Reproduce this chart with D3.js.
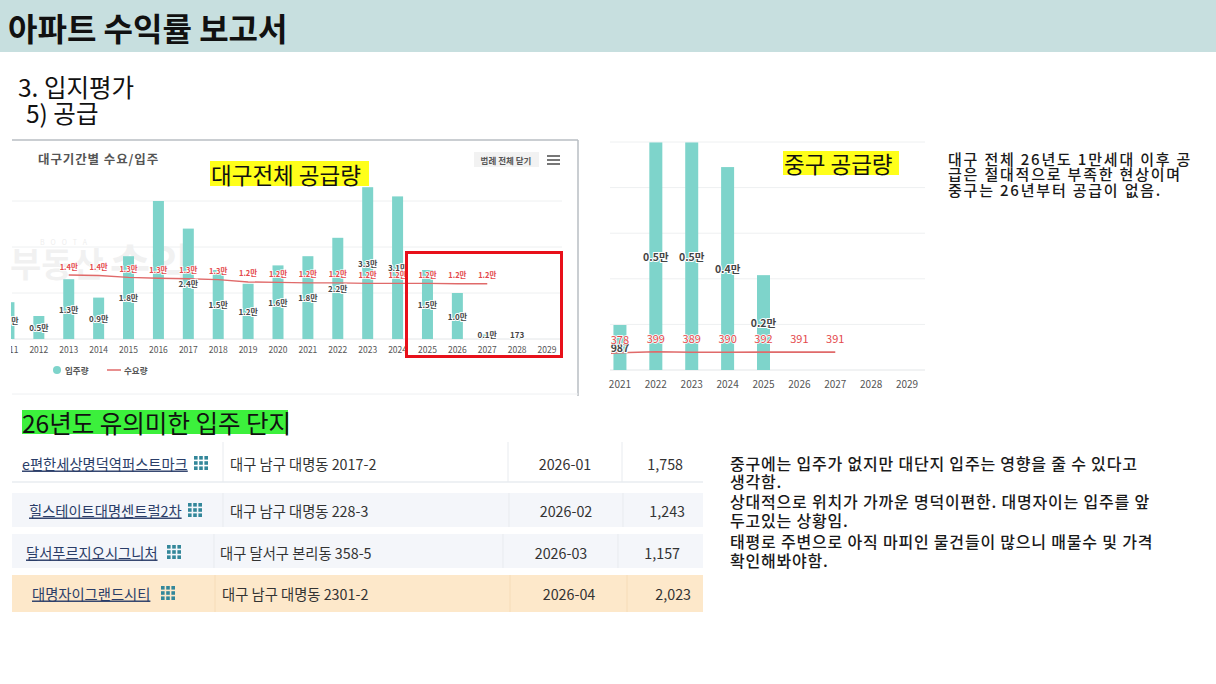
<!DOCTYPE html>
<html><head><meta charset="utf-8">
<script src="https://cdn.jsdelivr.net/npm/d3@7"></script>
<style>
body{margin:0;background:#fff;}
svg{display:block;font-family:"Noto Sans CJK KR","Noto Sans",sans-serif;}
</style></head><body>
<svg id="c" width="1216" height="684"></svg>
<script>
// ---------- DATA ----------
const daeguYears = ["2011","2012","2013","2014","2015","2016","2017","2018","2019","2020","2021","2022","2023","2024","2025","2026","2027","2028","2029"];
const daeguSupply = [8000,5000,13000,9000,18000,30000,24000,15000,12000,16000,18000,22000,33000,31000,15000,10000,1000,173,0];
const daeguDemandYears = ["2013","2014","2015","2016","2017","2018","2019","2020","2021","2022","2023","2024","2025","2026","2027"];
const daeguDemand = [13900,13800,13400,13200,13100,12900,12400,12300,12200,12200,12100,12100,12100,12000,12000];
const daeguTicks = [0,10000,20000,30000];

const jungYears = ["2021","2022","2023","2024","2025","2026","2027","2028","2029"];
const jungSupply = [987,4990,4990,4450,2080,0,0,0,0];
const jungDemandYears = ["2021","2022","2023","2024","2025","2026","2027"];
const jungDemand = [378,399,389,390,392,391,391];
const jungTicks = [0,1000,2000,3000,4000,5000];

const complexNames = ["e편한세상명덕역퍼스트마크","힐스테이트대명센트럴2차","달서푸르지오시그니처","대명자이그랜드시티"];
const complexAddr = ["대구 남구 대명동 2017-2","대구 남구 대명동 228-3","대구 달서구 본리동 358-5","대구 남구 대명동 2301-2"];
const complexDate = ["2026-01","2026-02","2026-03","2026-04"];
const complexUnits = [1758,1243,1157,2023];

const noteTop = ["대구 전체 26년도 1만세대 이후 공","급은 절대적으로 부족한 현상이며","중구는 26년부터 공급이 없음."];
const noteBottom = ["중구에는 입주가 없지만 대단지 입주는 영향을 줄 수 있다고","생각함.","상대적으로 위치가 가까운 명덕이편한. 대명자이는 입주를 앞","두고있는 상황임.","태평로 주변으로 아직 마피인 물건들이 많으니 매물수 및 가격","확인해봐야함."];

// ---------- STYLE ----------
const TEAL = "#7ed4cb", RED = "#e4494c", LINE_RED = "#e06a6a";
const svg = d3.select("#c");
const fmtMan = v => v >= 1000 ? (v/10000).toFixed(1) + "만" : String(v);

// header
svg.append("rect").attr("x",0).attr("y",0).attr("width",1216).attr("height",52).attr("fill","#c7dfdf");
svg.append("text").attr("x",8).attr("y",27).attr("dominant-baseline","central")
  .attr("font-size",32).attr("font-weight",700).attr("fill","#111").text("아파트 수익률 보고서");
svg.append("text").attr("x",18).attr("y",86).attr("dominant-baseline","central")
  .attr("font-size",24.5).attr("fill","#111").text("3. 입지평가");
svg.append("text").attr("x",26).attr("y",112).attr("dominant-baseline","central")
  .attr("font-size",24.5).attr("fill","#111").text("5) 공급");

// ---------- LEFT CHART ----------
const L = svg.append("g");
L.append("line").attr("x1",12).attr("x2",578).attr("y1",140).attr("y2",140).attr("stroke","#b9bec3").attr("stroke-width",1.5);
L.append("line").attr("x1",578).attr("x2",578).attr("y1",140).attr("y2",396).attr("stroke","#b9bec3").attr("stroke-width",1.5);
L.append("line").attr("x1",12).attr("x2",578).attr("y1",394).attr("y2",394).attr("stroke","#eef0f2").attr("stroke-width",1);

svg.append("defs").append("clipPath").attr("id","clipL").append("rect")
  .attr("x",11).attr("y",140).attr("width",567).attr("height",256);

const xL = d3.scalePoint().domain(daeguYears).range([-6,562]).padding(0.5);
const yL = d3.scaleLinear().domain([0,30000]).range([339,201]);

const Lc = L.append("g").attr("clip-path","url(#clipL)");
// watermark
Lc.append("text").attr("x",10).attr("y",262).attr("dominant-baseline","central")
  .attr("font-size",34).attr("font-weight",700).attr("fill","#000").attr("opacity",0.05)
  .text("부동산").append("tspan").attr("font-size",44).attr("dx",6).text("수익");
Lc.append("text").attr("x",40).attr("y",242).attr("dominant-baseline","central")
  .attr("font-size",7).attr("letter-spacing",6).attr("fill","#000").attr("opacity",0.07).text("BOOTA");

Lc.selectAll("line.grid").data(daeguTicks).join("line").attr("class","grid")
  .attr("x1",12).attr("x2",562).attr("y1",d=>yL(d)).attr("y2",d=>yL(d))
  .attr("stroke", d=> d===0 ? "#e3e6e8" : "#eef0f1");

const bwL = 11;
Lc.selectAll("rect.bar").data(daeguYears).join("rect").attr("class","bar")
  .attr("x",d=>xL(d)-bwL/2).attr("width",bwL)
  .attr("y",(d,i)=>yL(daeguSupply[i])).attr("height",(d,i)=>yL(0)-yL(daeguSupply[i]))
  .attr("fill",TEAL);

// demand line
const demPts = daeguDemandYears.map((y,i)=>[xL(y), yL(daeguDemand[i])]);
Lc.append("path").attr("d",d3.line()(demPts)).attr("fill","none").attr("stroke",LINE_RED).attr("stroke-width",1.4);

// supply labels
const demLabelY = {};
daeguDemandYears.forEach((y,i)=>demLabelY[y]=yL(daeguDemand[i])-9);
Lc.selectAll("text.sl").data(daeguYears.filter((d,i)=>daeguSupply[i]>0)).join("text").attr("class","sl")
  .each(function(d){
    const i = daeguYears.indexOf(d), v = daeguSupply[i];
    let ly = Math.min((yL(v)+yL(0))/2, yL(0)-5);
    const hide = demLabelY[d]!==undefined && Math.abs(demLabelY[d]-ly) < 5;
    d3.select(this).attr("x",xL(d)).attr("y",ly).attr("display",hide?"none":null).text(fmtMan(v));
  })
  .attr("text-anchor","middle").attr("dominant-baseline","central")
  .attr("font-size",8).attr("font-weight",700).attr("fill","#444")
  .attr("stroke","#fff").attr("stroke-width",2).attr("paint-order","stroke");

Lc.selectAll("text.dl").data(daeguDemandYears).join("text").attr("class","dl")
  .attr("x",d=>xL(d)).attr("y",d=>demLabelY[d]).text((d,i)=>fmtMan(daeguDemand[i]))
  .attr("text-anchor","middle").attr("dominant-baseline","central")
  .attr("font-size",7.5).attr("font-weight",700).attr("fill",RED)
  .attr("stroke","#fff").attr("stroke-width",1.5).attr("paint-order","stroke");

// x axis labels
Lc.selectAll("text.xl").data(daeguYears).join("text").attr("class","xl")
  .attr("x",d=>xL(d)).attr("y",349).text(d=>d)
  .attr("text-anchor","middle").attr("dominant-baseline","central")
  .attr("font-size",8.5).attr("fill","#555");

// title, legend, buttons
L.append("text").attr("x",38).attr("y",158).attr("dominant-baseline","central")
  .attr("font-size",12.5).attr("letter-spacing",0.9).attr("font-weight",700).attr("fill","#555").text("대구기간별 수요/입주");
L.append("rect").attr("x",210).attr("y",161).attr("width",159).attr("height",25).attr("fill","#ffff1a");
L.append("text").attr("x",211).attr("y",174).attr("dominant-baseline","central")
  .attr("font-size",22.5).attr("fill","#111").text("대구전체 공급량");
L.append("rect").attr("x",474).attr("y",152).attr("width",65).attr("height",15).attr("fill","#f2f2f2");
L.append("text").attr("x",506).attr("y",160).attr("text-anchor","middle").attr("dominant-baseline","central")
  .attr("font-size",8.5).attr("font-weight",700).attr("fill","#555").text("범례 전체 닫기");
[156,160,164].forEach(y=>L.append("line").attr("x1",547).attr("x2",560).attr("y1",y).attr("y2",y).attr("stroke","#555").attr("stroke-width",1.6));
L.append("circle").attr("cx",57).attr("cy",370).attr("r",4).attr("fill",TEAL);
L.append("text").attr("x",65).attr("y",370).attr("dominant-baseline","central")
  .attr("font-size",8.5).attr("font-weight",700).attr("fill","#555").text("입주량");
L.append("line").attr("x1",107).attr("x2",121).attr("y1",370).attr("y2",370).attr("stroke",LINE_RED).attr("stroke-width",1.5);
L.append("text").attr("x",124).attr("y",370).attr("dominant-baseline","central")
  .attr("font-size",8.5).attr("font-weight",700).attr("fill","#555").text("수요량");
// highlight box
L.append("rect").attr("x",406.5).attr("y",252.5).attr("width",155).attr("height",104)
  .attr("fill","none").attr("stroke","#e8101a").attr("stroke-width",3);

// ---------- RIGHT CHART ----------
const R = svg.append("g");
const xR = d3.scalePoint().domain(jungYears).range([602,925]).padding(0.5);
const yR = d3.scaleLinear().domain([0,5000]).range([370,142]);
R.selectAll("line.grid").data(jungTicks).join("line").attr("class","grid")
  .attr("x1",610).attr("x2",925).attr("y1",d=>yR(d)).attr("y2",d=>yR(d))
  .attr("stroke", d=> d===0 ? "#e3e6e8" : "#eef0f1");
const bwR = 13;
R.selectAll("rect.bar").data(jungYears).join("rect").attr("class","bar")
  .attr("x",d=>xR(d)-bwR/2).attr("width",bwR)
  .attr("y",(d,i)=>yR(jungSupply[i])).attr("height",(d,i)=>yR(0)-yR(jungSupply[i]))
  .attr("fill",TEAL);
const jPts = jungDemandYears.map((y,i)=>[xR(y), yR(jungDemand[i])]);
R.append("path").attr("d",d3.line()([[611,jPts[0][1]+0.5]].concat(jPts))).attr("fill","none").attr("stroke",LINE_RED).attr("stroke-width",1.6);
R.selectAll("text.sl").data(jungYears.filter((d,i)=>jungSupply[i]>0)).join("text").attr("class","sl")
  .each(function(d){
    const v = jungSupply[jungYears.indexOf(d)];
    d3.select(this).attr("x",xR(d)).attr("y",(yR(v)+yR(0))/2).text(fmtMan(v));
  })
  .attr("text-anchor","middle").attr("dominant-baseline","central")
  .attr("font-size",10.5).attr("font-weight",700).attr("fill","#444")
  .attr("stroke","#fff").attr("stroke-width",2).attr("paint-order","stroke");
R.selectAll("text.dl").data(jungDemandYears).join("text").attr("class","dl")
  .attr("x",d=>xR(d)).attr("y",(d,i)=>yR(jungDemand[i])-14).text((d,i)=>jungDemand[i])
  .attr("text-anchor","middle").attr("dominant-baseline","central")
  .attr("font-size",11).attr("fill",RED)
  .attr("stroke","#fff").attr("stroke-width",1.5).attr("paint-order","stroke");
R.selectAll("text.xl").data(jungYears).join("text").attr("class","xl")
  .attr("x",d=>xR(d)).attr("y",383).text(d=>d)
  .attr("text-anchor","middle").attr("dominant-baseline","central")
  .attr("font-size",10).attr("fill","#555");
R.append("rect").attr("x",783).attr("y",151).attr("width",116).attr("height",24).attr("fill","#ffff1a");
R.append("text").attr("x",784).attr("y",163).attr("dominant-baseline","central")
  .attr("font-size",22.5).attr("fill","#111").text("중구 공급량");

// ---------- NOTES ----------
const topY = [158,173.5,189];
svg.selectAll("text.nt").data(noteTop).join("text").attr("class","nt")
  .attr("x",948).attr("y",(d,i)=>topY[i]).attr("dominant-baseline","central")
  .attr("font-size",15).attr("letter-spacing",1.8).attr("font-weight",500).attr("fill","#1a1a1a").text(d=>d);
const botY = [463,481,501,520,541,560];
svg.selectAll("text.nb").data(noteBottom).join("text").attr("class","nb")
  .attr("x",730).attr("y",(d,i)=>botY[i]).attr("dominant-baseline","central")
  .attr("font-size",16).attr("letter-spacing",0.8).attr("font-weight",500).attr("fill","#1a1a1a").text(d=>d);

// ---------- TABLE ----------
svg.append("rect").attr("x",22).attr("y",410).attr("width",266).attr("height",24).attr("fill","#3cf03c");
svg.append("text").attr("x",22).attr("y",422).attr("dominant-baseline","central")
  .attr("font-size",24.5).attr("fill","#111").text("26년도 유의미한 입주 단지");

const rowTop = [442,493,534,575], rowH = [40,34,34,37], rowMid = [463,510,552,593];
const rowBg = ["#ffffff","#f4f6fa","#f4f6fa","#fde8ca"];
const nameX = [22,29,26,32], iconX = [194,188,167,161];
const div1 = [223,223,214,215], addrX = [230,230,220,222];
const div2 = [508,509,503,510], dateX = [565,566,561,569];
const div3 = [622,623,618,627], numX = [683,685,680,691];
const T = svg.append("g");
complexNames.forEach((nm,i)=>{
  const g = T.append("g");
  g.append("rect").attr("x",12).attr("y",rowTop[i]).attr("width",691).attr("height",rowH[i]).attr("fill",rowBg[i]);
  if(i===0) g.append("line").attr("x1",12).attr("x2",703).attr("y1",482).attr("y2",482).attr("stroke","#e9ecf0").attr("stroke-width",1.5);
  [div1[i],div2[i],div3[i]].forEach(x=>g.append("line").attr("x1",x).attr("x2",x)
    .attr("y1",rowTop[i]).attr("y2",rowTop[i]+rowH[i]).attr("stroke", i===3 ? "#f6dcb8" : "#e8ebef"));
  g.append("text").attr("x",nameX[i]).attr("y",rowMid[i]).attr("dominant-baseline","central")
    .attr("font-size",14.3).attr("fill","#2a3d68").attr("text-decoration","underline").text(nm);
  for(let r=0;r<3;r++) for(let c=0;c<3;c++)
    g.append("rect").attr("x",iconX[i]+c*5.2).attr("y",rowMid[i]-7+r*5.2).attr("width",3.6).attr("height",3.6).attr("fill","#33879a");
  g.append("text").attr("x",addrX[i]).attr("y",rowMid[i]).attr("dominant-baseline","central")
    .attr("font-size",14.3).attr("fill","#333").text(complexAddr[i]);
  g.append("text").attr("x",dateX[i]).attr("y",rowMid[i]).attr("text-anchor","middle").attr("dominant-baseline","central")
    .attr("font-size",14.3).attr("fill","#333").text(complexDate[i]);
  g.append("text").attr("x",numX[i]).attr("y",rowMid[i]).attr("text-anchor","end").attr("dominant-baseline","central")
    .attr("font-size",14.3).attr("fill","#333").text(d3.format(",")(complexUnits[i]));
});
</script>
</body></html>
